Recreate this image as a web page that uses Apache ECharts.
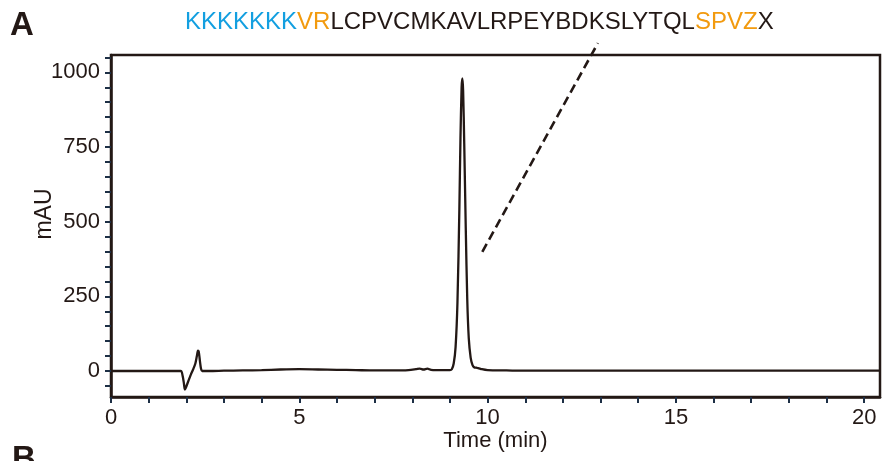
<!DOCTYPE html>
<html>
<head>
<meta charset="utf-8">
<script src="https://cdn.jsdelivr.net/npm/echarts@6/dist/echarts.min.js"></script>
<style>
    html, body { margin: 0; padding: 0; background: #fff; }
    #chart { width: 891px; height: 461px; }
</style>
</head>
<body>
<div id="chart"></div>
<script>
// chromatogram trace (time in min, absorbance in mAU)
let times = [0, 1.0, 1.85, 1.90, 1.94, 1.96, 1.99, 2.05, 2.12, 2.18, 2.24, 2.28, 2.31, 2.33, 2.36, 2.39, 2.42,
    2.6, 3.0, 3.5, 4.0, 4.5, 5.0, 5.5, 6.0, 6.5, 7.0, 7.5, 7.9, 8.1, 8.2, 8.3, 8.4, 8.5, 8.8,
    9.00, 9.05, 9.10, 9.15, 9.20, 9.25, 9.28, 9.31, 9.33, 9.35, 9.38, 9.42, 9.46, 9.50, 9.55,
    9.60, 9.65, 9.70, 9.75, 9.85, 10.0, 10.5, 11, 12, 13, 14, 15, 16, 17, 18, 19, 20, 20.42];
let mAU = [0, 0, 0, -15, -45, -62, -55, -35, -12, 5, 25, 50, 68, 65, 35, 8, 0,
    0, 1, 2, 3, 5, 6, 5, 4, 3, 2, 2, 3, 6, 8, 5, 8, 4, 3,
    3, 6, 25, 80, 230, 540, 780, 950, 980, 940, 760, 480, 240, 110, 45,
    20, 12, 11, 10, 6, 3, 2, 1, 1, 1, 1, 1, 1, 1, 1, 1, 1, 1];

// dashed pointer from the peak up to the sequence
let pointerTimes = [9.86, 12.93];
let pointerMAU = [399, 1098];

let xTicks = [0, 1, 2, 3, 4, 5, 6, 7, 8, 9, 10, 11, 12, 13, 14, 15, 16, 17, 18, 19, 20];
let xLabels = [0, 5, 10, 15, 20];
let yTicks = [-50, 0, 50, 100, 150, 200, 250, 300, 350, 400, 450, 500, 550, 600, 650, 700, 750, 800, 850, 900, 950, 1000, 1050];
let yLabels = [0, 250, 500, 750, 1000];

let ink = '#231815';
let tickInk = '#1d2f45';
let font = '"Liberation Sans", Arial, sans-serif';

let option = {
    animation: false,
    title: {
        text: '{b|KKKKKKK}{o|VR}{k|LCPVCMKAVLRPEYBDKSLYTQL}{o|SPVZ}{k|X}',
        left: 180,
        top: 5,
        textStyle: {
            fontWeight: 'normal',
            rich: {
                b: { color: '#139fe0', fontSize: 24, fontWeight: 'normal', fontFamily: font },
                o: { color: '#f29a0e', fontSize: 24, fontWeight: 'normal', fontFamily: font },
                k: { color: ink, fontSize: 24, fontWeight: 'normal', fontFamily: font }
            }
        }
    },
    graphic: [
        { type: 'text', left: 10, top: 9, style: { text: 'A', fontSize: 33, fontWeight: 'bold', fontFamily: font, fill: ink } },
        { type: 'text', left: 12, top: 443, style: { text: 'B', fontSize: 33, fontWeight: 'bold', fontFamily: font, fill: ink } }
    ],
    grid: {
        left: 111,
        right: 11,
        top: 55,
        bottom: 64,
        show: true,
        borderColor: ink,
        borderWidth: 2.5
    },
    xAxis: {
        type: 'value',
        min: 0,
        max: 20.42,
        name: 'Time (min)',
        nameLocation: 'middle',
        nameGap: 33,
        nameMoveOverlap: false,
        nameTextStyle: { fontSize: 22, color: ink, fontFamily: font },
        axisLine: { show: true, onZero: false, lineStyle: { color: ink, width: 2.5 } },
        axisTick: { show: true, length: 6, customValues: xTicks, lineStyle: { color: tickInk, width: 2 } },
        axisLabel: { customValues: xLabels, margin: 10, fontSize: 22, color: ink, fontFamily: font },
        splitLine: { show: false }
    },
    yAxis: {
        type: 'value',
        min: -87,
        max: 1058,
        name: 'mAU',
        nameLocation: 'middle',
        nameGap: 55,
        nameMoveOverlap: false,
        nameTextStyle: { fontSize: 23, color: ink, fontFamily: font, padding: [0, 0, 0, 24] },
        axisLine: { show: true, onZero: false, lineStyle: { color: ink, width: 2.5 } },
        axisTick: { show: true, length: 6, customValues: yTicks, lineStyle: { color: tickInk, width: 2 } },
        axisLabel: {
            customValues: yLabels, margin: 11, fontSize: 22, color: ink, fontFamily: font,
            formatter: v => String(v)
        },
        splitLine: { show: false }
    },
    series: [
        {
            name: 'trace',
            type: 'line',
            data: times.map((t, i) => [t, mAU[i]]),
            showSymbol: false,
            smooth: 0.3,
            lineStyle: { color: ink, width: 2.3 }
        },
        {
            name: 'pointer',
            type: 'line',
            data: pointerTimes.map((t, i) => [t, pointerMAU[i]]),
            showSymbol: false,
            clip: false,
            lineStyle: { color: ink, width: 2.6, type: [9, 5] }
        }
    ]
};

let myChart = echarts.init(document.getElementById('chart'));
myChart.setOption(option);
</script>
</body>
</html>
